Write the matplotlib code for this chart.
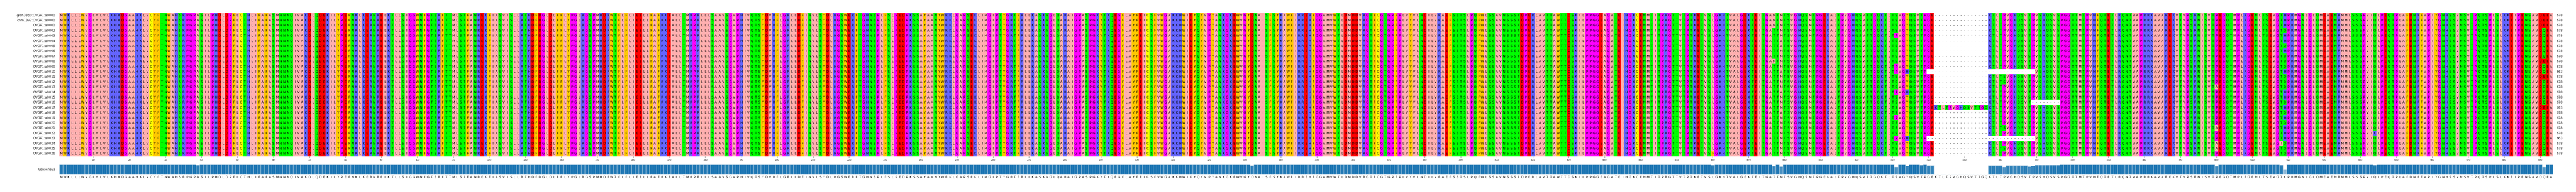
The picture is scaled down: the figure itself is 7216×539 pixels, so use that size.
import numpy as np
import matplotlib
matplotlib.use("Agg")
import matplotlib.pyplot as plt
from collections import Counter

# protein sequence in blocks of 10 columns (col 619 = H, col 691 = Q in the base)
seq_blocks = [
    "MWKLLLWVGL", "VLVLKHHDGA", "AHKLVCYFTN", "WAHSRPGPAS", "ILPHDLDPFL", "CTHLIFAFAS", "MNNNQIVAKD",
    "LQDEKILYPE", "FNKLKERNRE", "LKTLLSIGGW", "NFGTSRFTTM", "LSTFANREKF", "IASVISLLRT", "HDFDGLDLFF",
    "LYPGLRGSPM", "HDRWTFLFLI", "EELLFAFRKE", "ALLTMRPRLL", "LSAAVSGVPH", "IVQTSYDVRF", "LGRLLDFINV",
    "LSYDLHGSWE", "RFTGHNSPLF", "SLPEDPKSSA", "YAMNYWRKLG", "APSEKLIMGI", "PTYGRTFRLL", "KASKNGLQAR",
    "AIGPASPGKY", "TKQEGFLAYF", "EICSFVWGAK", "KHWIDYQYVP", "YANKGKEWVG", "YDNAISFSYK", "AWFIRREHFG",
    "GAMVWTLDMD", "DVRGTFCGTG", "PFPLVYVLND", "ILVRAEFSST", "SLPQFWLSSA", "VNSSSTDPER", "LAVTTAWTTD",
    "SKILPPGGEA", "GVTEIHGKCE", "NMTITPRGTT", "VTPTKETVSL", "GKHTVALGEK", "TEITGATTMT", "SVGHQSMTPG",
    "EKALTPVGHQ", "SVTTGQKTLT", "SVGYQSVTPG", "EKTLTPVGHQ", "SVTTGQKTLT", "PVGHQSVTPV", "SHQSVSPGGT",
    "TMTPVHFQTE", "TLRQNTVAPR", "RKAVAREKVT", "VPSRNISVTP", "EGQTMPLRGE", "NLTSEVGTHP", "RMGNLGLQME",
    "AENRMMLSSS", "PVIQLPEQTP", "LAFDNRFVPI", "YGNHSSVNSV", "TPQTSPLSLK", "KEIPENSAVD", "QEA",
]
row_labels = ["grch38p0:OVGP1:a0001", "chm13v2:OVGP1:a0001"] + ["OVGP1:a%04d" % i for i in range(1, 27)]

changes = [
    (39, "V", [20]),
    (332, "E", [5, 19]),
    (460, "F", [27]),
    (477, "M", [0, 1, 2, 9]),
    (479, "V", [5, 6, 11, 15, 19]),
    (511, "P", [4, 10, 11, 15, 20, 24]),
    (514, "H", [11, 15, 24]),
    (518, "S", [21]),
    (541, "S", [12, 13, 22, 26]),
    (548, "S", [8, 16, 23]),
    (600, "A", [14, 22, 25, 26]),
    (618, "I", [25]),
    (619, "Q", [3, 6, 8, 9, 10, 12, 13, 14, 17, 19, 21, 25, 26, 27]),
    (644, "K", [23]),
    (691, "E", [0, 1, 2, 9, 12, 18]),
]
# (first column, last column, rows)
gaps = [
    (522, 536, [r for r in range(28) if r not in (11, 18, 24)]),
    (520, 549, [11, 24]),
    (549, 556, [17]),
]
tick_values = list(range(10, 700, 10))

zappo = {
    "A": "#ffafaf", "I": "#ffafaf", "L": "#ffafaf", "M": "#ffafaf", "V": "#ffafaf",
    "F": "#ffc800", "W": "#ffc800", "Y": "#ffc800",
    "K": "#6464ff", "R": "#6464ff", "H": "#6464ff",
    "D": "#ff0000", "E": "#ff0000",
    "N": "#00ff00", "Q": "#00ff00", "S": "#00ff00", "T": "#00ff00",
    "G": "#ff00ff", "P": "#ff00ff",
    "C": "#ffff00", "-": "#ffffff",
}

# build the alignment
base = "".join(seq_blocks)
rows = [list(base) for _ in row_labels]
for col, letter, which in changes:
    for r in which:
        rows[r][col - 1] = letter
for first, last, which in gaps:
    for r in which:
        for c in range(first - 1, last):
            rows[r][c] = "-"
n_cols = len(base)
n_rows = len(rows)

# consensus letter and identity per column
consensus = []
identity = []
for c in range(n_cols):
    counts = Counter(row[c] for row in rows)
    del counts["-"]
    top = counts.most_common()
    if len(top) > 1 and top[0][1] == top[1][1]:
        consensus.append("X")
    else:
        consensus.append(top[0][0])
    identity.append(100 * top[0][1] / n_rows)

W, H = 7216, 539
fig = plt.figure(figsize=(W / 100, H / 100), dpi=100)


def axes_px(left, top, right, bottom):
    return fig.add_axes([left / W, 1 - bottom / H, (right - left) / W, (bottom - top) / H])


# alignment
ax = axes_px(166, 36, 7151, 439)
rgb = np.array([[matplotlib.colors.to_rgb(zappo[ch]) for ch in row] for row in rows])
ax.imshow(rgb, extent=(0, n_cols, n_rows, 0), aspect="auto", interpolation="nearest")
for r, row in enumerate(rows):
    for c, ch in enumerate(row):
        ax.text(c + 0.5, r + 0.5, ch, ha="center", va="center", fontsize=6.5, color="black")
    ax.text(-1.1, r + 0.5, row_labels[r], ha="right", va="center", fontsize=6.45, color="#111111")
    ax.text(n_cols + 1.05, r + 0.5, str(n_cols - row.count("-")), ha="left", va="center", fontsize=6.5,
            color="#111111")
ax.set_xlim(0, n_cols)
ax.set_ylim(n_rows, 0)
ax.set_yticks([])
ax.set_xticks([t - 0.5 for t in tick_values])
ax.set_xticklabels([str(t) for t in tick_values])
ax.tick_params(axis="x", length=2.9, width=0.6, labelsize=4.7, pad=2.2, color="#222222", labelcolor="#222222")
for s in ax.spines.values():
    s.set_visible(False)

# consensus identity bars
ax2 = axes_px(166, 461.7, 7151, 490)
x = np.arange(n_cols) + 0.5
bar_colors = [(0.122, 0.467, 0.706, v / 100) for v in identity]
ax2.bar(x, identity, width=1, color=bar_colors, edgecolor="#cfe0ec", linewidth=0.6)
ax2.set_xlim(0, n_cols)
ax2.set_ylim(0, 100)
ax2.set_xticks([])
ax2.set_yticks([])
for s in ax2.spines.values():
    s.set_visible(False)
ax2.text(-1.1, 50, "Consensus", ha="right", va="center", fontsize=6.45, color="#111111")
for c, ch in enumerate(consensus):
    ax2.text(c + 0.5, -25, ch, ha="center", va="center", fontsize=6.5, color="black", clip_on=False)

fig.savefig("out.png", dpi=100)
